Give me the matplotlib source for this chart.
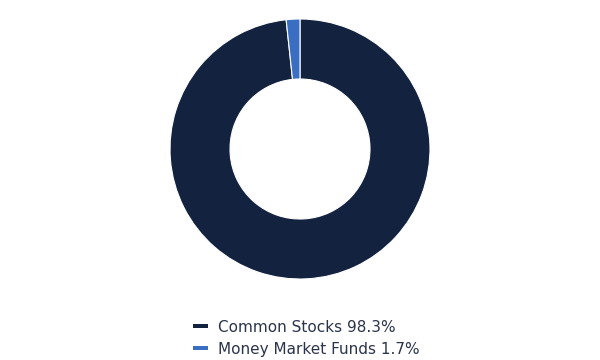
import matplotlib
matplotlib.use("Agg")
import matplotlib.pyplot as plt
from matplotlib.patches import Rectangle

categories = ["Common Stocks", "Money Market Funds"]
values = [98.3, 1.7]
colors = ["#12223F", "#3A6EC2"]
labels = [f"{c} {v}%" for c, v in zip(categories, values)]

fig = plt.figure(figsize=(6, 3.6), dpi=100)
ax = fig.add_axes([170/600, 81/360, 260/600, 260/360])
ax.pie(values, colors=colors, startangle=90, counterclock=False, radius=1,
       wedgeprops=dict(width=1 - 70/130, edgecolor="white", linewidth=0.8))
ax.set_xlim(-1, 1)
ax.set_ylim(-1, 1)
ax.set_aspect("equal")
ax.axis("off")

handles = [Rectangle((0, 0), 1, 1, facecolor=c, linewidth=0) for c in colors]
leg = fig.legend(handles, labels, loc="center", bbox_to_anchor=(306/600, 1 - 338.5/360),
                 frameon=False, fontsize=11, handlelength=1.0, handleheight=0.03,
                 handletextpad=0.65, labelspacing=0.45, labelcolor="#2B3449")
fig.savefig("out.png", dpi=100)
